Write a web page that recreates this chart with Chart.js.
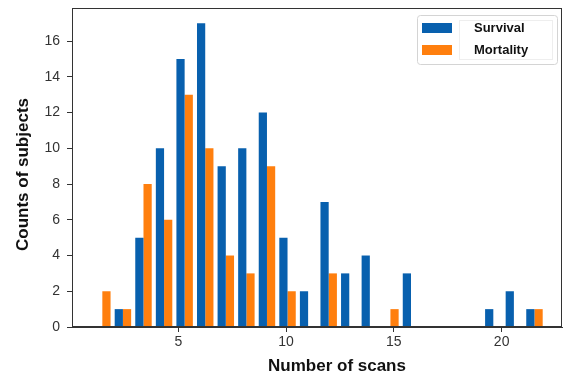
<!DOCTYPE html>
<html>
<head>
<meta charset="utf-8">
<script src="https://cdn.jsdelivr.net/npm/chart.js@4"></script>
<style>
  html, body { margin: 0; padding: 0; background: #fff; }
  #wrap { width: 566px; height: 375px; position: relative; }
</style>
</head>
<body>
<div id="wrap"><canvas id="histChart"></canvas></div>
<script>
// bin centres of the 22 histogram bins (scans)
const binCenters = [1.477, 2.432, 3.386, 4.341, 5.295, 6.250, 7.205, 8.159, 9.114, 10.068, 11.023,
                    11.977, 12.932, 13.886, 14.841, 15.795, 16.750, 17.705, 18.659, 19.614, 20.568, 21.523];
const survival  = [0, 1, 5, 10, 15, 17, 9, 10, 12, 5, 2, 7, 3, 4, 0, 3, 0, 0, 0, 1, 2, 1];
const mortality = [2, 1, 8, 6, 13, 10, 4, 3, 9, 2, 0, 3, 0, 0, 1, 0, 0, 0, 0, 0, 0, 1];
const seriesNames = ['Survival', 'Mortality'];
const xTicks = [5, 10, 15, 20];
const yTicks = [0, 2, 4, 6, 8, 10, 12, 14, 16];
const xTitle = 'Number of scans';
const yTitle = 'Counts of subjects';

const BLUE = '#0860ae';
const ORANGE = '#ff7f0e';
const AXIS = '#333333';
const FONT = '"Liberation Sans", Arial, sans-serif';

// matplotlib style frame, axis titles and legend box in the upper right
const framePlugin = {
    id: 'frameAndLegend',
    afterDraw(chart) {
        const ctx = chart.ctx;
        const a = chart.chartArea;
        ctx.save();
        ctx.strokeStyle = AXIS;
        ctx.lineWidth = 1;
        ctx.strokeRect(a.left + 0.5, a.top + 0.5, a.right - a.left - 1, a.bottom - a.top - 1);

        // axis titles (sit a little right / below the axes centre, like the source image)
        ctx.fillStyle = '#111';
        ctx.font = 'bold 17px ' + FONT;
        ctx.textAlign = 'center';
        ctx.textBaseline = 'alphabetic';
        ctx.fillText(xTitle, (a.left + a.right) / 2 + 20, chart.height - 4);
        ctx.save();
        ctx.translate(27.5, (a.top + a.bottom) / 2 + 7);
        ctx.rotate(-Math.PI / 2);
        ctx.fillText(yTitle, 0, 0);
        ctx.restore();

        // legend
        const lx = a.right - 145, ly = a.top + 7, lw = 140, lh = 49;
        ctx.fillStyle = 'rgba(255,255,255,0.9)';
        ctx.strokeStyle = '#d4d4d4';
        ctx.beginPath();
        ctx.roundRect(lx + 0.5, ly + 0.5, lw, lh, 3);
        ctx.fill();
        ctx.stroke();
        ctx.strokeStyle = '#eeeeee';
        ctx.strokeRect(lx + 42.5, ly + 5.5, 93, 39);

        ctx.font = 'bold 13px ' + FONT;
        ctx.textAlign = 'left';
        ctx.textBaseline = 'middle';
        chart.data.datasets.forEach((ds, i) => {
            const y = ly + 13 + i * 22;
            ctx.fillStyle = ds.backgroundColor;
            ctx.fillRect(lx + 5, y - 5, 30, 10);
            ctx.fillStyle = '#111';
            ctx.fillText(ds.label, lx + 57, y);
        });
        ctx.restore();
    }
};

const ctx = document.getElementById('histChart');
new Chart(ctx, {
    type: 'bar',
    data: {
        datasets: [
            {
                label: seriesNames[0],
                data: binCenters.map((x, i) => ({ x: x, y: survival[i] })),
                backgroundColor: BLUE
            },
            {
                label: seriesNames[1],
                data: binCenters.map((x, i) => ({ x: x, y: mortality[i] })),
                backgroundColor: ORANGE
            }
        ]
    },
    options: {
        responsive: true,
        maintainAspectRatio: false,
        animation: false,
        devicePixelRatio: 1,
        categoryPercentage: 0.8,
        barPercentage: 1.0,
        layout: { padding: { left: 0, top: 8, right: 4, bottom: 0 } },
        plugins: {
            legend: { display: false },
            tooltip: { enabled: false }
        },
        scales: {
            x: {
                type: 'linear',
                min: 0.07,
                max: 22.8,
                offset: false,
                afterBuildTicks: scale => { scale.ticks = xTicks.map(v => ({ value: v })); },
                afterFit: scale => {
                    scale.height = 48;
                    scale.paddingLeft = 0;
                    scale.paddingRight = 0;
                },
                grid: { offset: false, drawOnChartArea: false, drawTicks: true, tickLength: 5, color: AXIS },
                border: { display: true, color: AXIS },
                ticks: {
                    padding: 2,
                    color: '#333',
                    maxRotation: 0,
                    font: { family: FONT, size: 14 }
                }
            },
            y: {
                min: 0,
                max: 17.85,
                afterBuildTicks: scale => { scale.ticks = yTicks.map(v => ({ value: v })); },
                afterFit: scale => {
                    scale.width = 72;
                    scale.paddingTop = 0;
                    scale.paddingBottom = 0;
                },
                grid: { drawOnChartArea: false, drawTicks: true, tickLength: 5, color: AXIS },
                border: { display: true, color: AXIS },
                ticks: {
                    padding: 7,
                    color: '#333',
                    font: { family: FONT, size: 14 }
                }
            }
        }
    },
    plugins: [framePlugin]
});
</script>
</body>
</html>
